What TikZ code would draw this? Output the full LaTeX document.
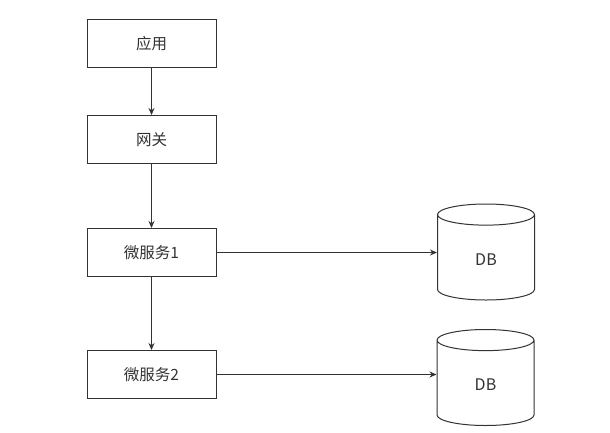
\documentclass[tikz,border=0pt]{standalone}
\usepackage{fontspec}
\newfontfamily\cjk{Noto Sans CJK SC}
\usetikzlibrary{shapes.geometric,arrows.meta,positioning}
\definecolor{ink}{HTML}{333333}
\tikzset{
  % En service-boks: et navn i midten
  svc/.style={draw=ink, line width=1pt, fill=white,
    minimum width=129pt, minimum height=48pt,
    font=\cjk\fontsize{15.5}{17}\selectfont, text=ink},
  % Database som cylinder
  db/.style={draw=ink, line width=1pt, fill=white,
    cylinder, shape border rotate=90, aspect=.75,
    minimum width=97pt, minimum height=96pt, anchor=shape center,
    font=\cjk\fontsize{16}{18}\selectfont, text=ink},
  flow/.style={draw=ink, line width=.8pt, -{Stealth[length=7pt,width=6pt]}},
}
\newcommand{\blok}[3]{%
  \node[svc] (#1) at (#2) {#3};}

\begin{document}
\begin{tikzpicture}[x=1pt,y=-1pt]
\useasboundingbox (0,0) rectangle (610,432);

% ----- kaede af services -----
\blok{app}{151.5,43.5}{应用}
\blok{gw}{151.5,139.5}{网关}
\blok{ms1}{151.5,252.5}{微服务1}
\blok{ms2}{151.5,374.5}{微服务2}

% ----- databaser -----
\node[db] (db1) at (486,252) {DB};
\node[db] (db2) at (485.5,377.5) {DB};

% ----- kald -----
\draw[flow] (app) -- (gw);
\draw[flow] (gw) -- (ms1);
\draw[flow] (ms1) -- (ms2);
\draw[flow] (ms1.east) -- (ms1.east -| db1.west);
\draw[flow] (ms2.east) -- (ms2.east -| db2.west);

\end{tikzpicture}
\end{document}
